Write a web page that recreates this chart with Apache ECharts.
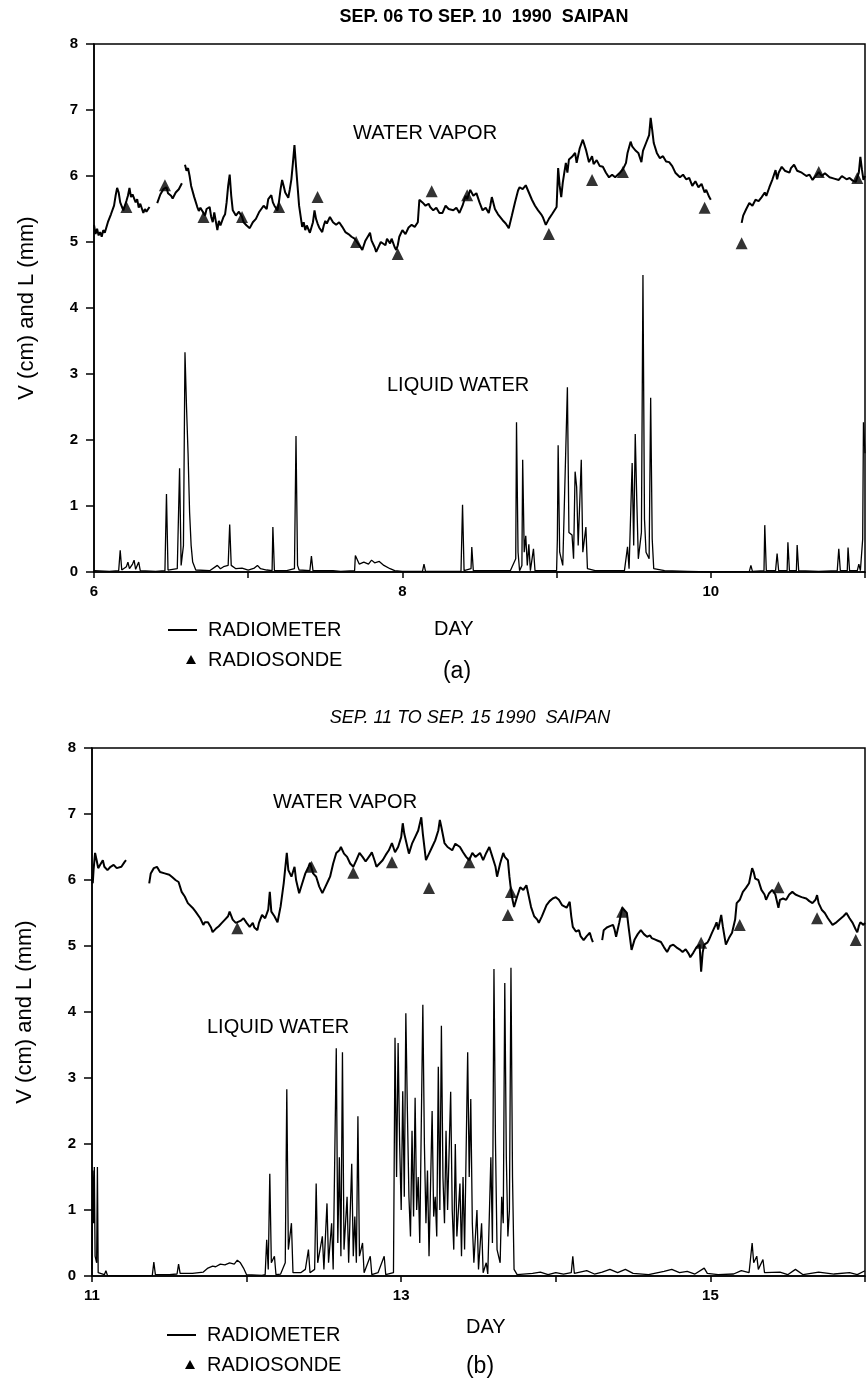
<!DOCTYPE html>
<html>
<head>
<meta charset="utf-8">
<script src="https://cdn.jsdelivr.net/npm/echarts@6/dist/echarts.min.js"></script>
<style>
  html, body { margin: 0; padding: 0; background: #fff; }
  #chart { width: 868px; height: 1389px; }
</style>
</head>
<body>
<div id="chart"></div>
<script>
// Saipan, September 1990: integrated water vapor V (cm) and liquid water L (mm)
// from the microwave radiometer, with radiosonde V values as triangles.

const dayRangeA = [6, 11];
const dayRangeB = [11, 16];
const valueRange = [0, 8];
const titleA = 'SEP. 06 TO SEP. 10  1990  SAIPAN';
const titleB = 'SEP. 11 TO SEP. 15 1990  SAIPAN';
const yAxisTitle = 'V (cm) and L (mm)';

// Radiometer water vapor, Sep 06-10; each inner list is one unbroken record
const vaporA = [
  [[6.00,5.26],[6.01,5.12],[6.02,5.20],[6.03,5.10],[6.04,5.15],[6.05,5.08],[6.06,5.18],[6.07,5.14],[6.09,5.30],[6.11,5.42],
   [6.13,5.55],[6.14,5.70],[6.15,5.82],[6.16,5.75],[6.17,5.60],[6.19,5.48],[6.20,5.55],[6.21,5.62],[6.22,5.70],[6.23,5.82],
   [6.24,5.68],[6.25,5.72],[6.27,5.60],[6.28,5.65],[6.29,5.52],[6.30,5.58],[6.32,5.44],[6.33,5.50],[6.34,5.46],[6.36,5.53]],
  [[6.41,5.59],[6.43,5.72],[6.45,5.80],[6.47,5.83],[6.48,5.74],[6.50,5.70],[6.51,5.66],[6.53,5.75],[6.55,5.80],[6.57,5.89]],
  [[6.59,6.17],[6.60,6.08],[6.61,6.12],[6.62,6.00],[6.63,5.85],[6.65,5.68],[6.67,5.53],[6.68,5.47],[6.69,5.52],[6.71,5.44],
   [6.72,5.40],[6.73,5.50],[6.75,5.53],[6.76,5.38],[6.77,5.30],[6.78,5.45],[6.80,5.18],[6.81,5.32],[6.82,5.25],[6.84,5.38],
   [6.85,5.42],[6.86,5.60],[6.87,5.85],[6.88,6.02],[6.89,5.70],[6.90,5.48],[6.92,5.40],[6.94,5.46],[6.96,5.38],[6.97,5.30],
   [6.99,5.25],[7.01,5.21],[7.03,5.30],[7.05,5.35],[7.07,5.45],[7.08,5.48],[7.10,5.55],[7.12,5.50],[7.13,5.65],[7.15,5.71],
   [7.16,5.60],[7.17,5.55],[7.19,5.48],[7.20,5.62],[7.21,5.80],[7.22,5.94],[7.23,5.85],[7.24,5.75],[7.26,5.67],[7.27,5.80],
   [7.28,5.95],[7.29,6.20],[7.30,6.47],[7.31,6.15],[7.32,5.85],[7.33,5.55],[7.35,5.23],[7.36,5.30],[7.37,5.18],[7.38,5.25],
   [7.40,5.14],[7.41,5.22],[7.42,5.30],[7.43,5.48],[7.44,5.35],[7.45,5.28],[7.46,5.22],[7.48,5.15],[7.49,5.25],[7.50,5.32],
   [7.51,5.28],[7.53,5.38],[7.55,5.30],[7.57,5.26],[7.59,5.30],[7.61,5.23],[7.63,5.15],[7.65,5.12],[7.67,5.08],[7.69,5.05],
   [7.70,5.03],[7.72,4.95],[7.74,4.88],[7.75,4.95],[7.76,5.02],[7.78,5.10],[7.79,5.14],[7.80,5.02],[7.82,4.92],[7.83,4.85],
   [7.84,4.90],[7.86,5.00],[7.87,5.03],[7.89,4.95],[7.90,5.05],[7.92,4.98],[7.93,5.05],[7.95,4.92],[7.96,4.88],[7.97,4.95],
   [7.98,5.08],[8.00,5.18],[8.02,5.12],[8.04,5.22],[8.06,5.26],[8.08,5.23],[8.10,5.30],[8.11,5.64],[8.13,5.60],[8.15,5.55],
   [8.17,5.58],[8.18,5.53],[8.20,5.48],[8.22,5.52],[8.24,5.44],[8.26,5.44],[8.28,5.55],[8.30,5.50],[8.33,5.48],[8.35,5.52],
   [8.37,5.44],[8.39,5.55],[8.41,5.70],[8.42,5.65],[8.44,5.79],[8.46,5.70],[8.48,5.74],[8.50,5.60],[8.52,5.48],[8.54,5.52],
   [8.56,5.44],[8.57,5.55],[8.58,5.68],[8.60,5.50],[8.62,5.42],[8.65,5.33],[8.67,5.28],[8.69,5.21],[8.71,5.40],[8.73,5.60],
   [8.75,5.78],[8.76,5.83],[8.78,5.80],[8.80,5.86],[8.82,5.75],[8.84,5.64],[8.86,5.55],[8.88,5.48],[8.90,5.42],[8.91,5.38],
   [8.93,5.26],[8.95,5.35],[8.97,5.42],[9.00,5.53],[9.01,6.12],[9.02,5.85],[9.03,5.68],[9.04,5.90],[9.05,6.05],[9.06,6.20],
   [9.07,6.05],[9.08,6.25],[9.10,6.29],[9.12,6.35],[9.13,6.20],[9.15,6.42],[9.17,6.55],[9.18,6.58],[9.19,6.40],[9.21,6.21],
   [9.23,6.30],[9.24,6.18],[9.26,6.24],[9.28,6.15],[9.30,6.14],[9.32,6.05],[9.34,5.98],[9.36,6.02],[9.38,5.98],[9.41,6.05],
   [9.43,6.10],[9.45,6.20],[9.46,6.35],[9.48,6.52],[9.49,6.45],[9.51,6.39],[9.53,6.35],[9.55,6.21],[9.56,6.38],[9.58,6.50],
   [9.60,6.62],[9.61,6.88],[9.62,6.70],[9.63,6.50],[9.65,6.35],[9.67,6.27],[9.69,6.30],[9.71,6.22],[9.73,6.21],[9.75,6.15],
   [9.77,6.05],[9.80,5.98],[9.82,6.02],[9.84,5.95],[9.86,5.97],[9.88,5.85],[9.90,5.92],[9.92,5.83],[9.94,5.88],[9.96,5.75],
   [9.97,5.79],[9.99,5.68],[10.00,5.64]],
  [[10.20,5.29],[10.21,5.40],[10.23,5.50],[10.25,5.59],[10.27,5.55],[10.29,5.64],[10.31,5.62],[10.33,5.68],[10.35,5.75],[10.36,5.70],
   [10.38,5.83],[10.40,5.95],[10.42,6.09],[10.43,5.95],[10.44,6.05],[10.46,6.14],[10.48,6.08],[10.51,6.05],[10.52,6.12],[10.54,6.17],
   [10.56,6.08],[10.59,6.05],[10.62,6.00],[10.64,6.02],[10.66,5.94],[10.68,6.00],[10.70,6.06],[10.72,6.00],[10.74,6.04],[10.77,5.98],
   [10.80,5.96],[10.83,5.94],[10.85,6.00],[10.88,5.95],[10.90,5.97],[10.92,5.93],[10.94,5.91],[10.96,6.05],[10.97,6.29],[10.98,6.10],
   [10.99,5.94],[11.00,6.00]]
];

// Radiosonde water vapor, Sep 06-10
const sondeA = [[6.21,5.53],[6.46,5.86],[6.71,5.38],[6.96,5.38],[7.20,5.53],[7.45,5.68],[7.70,5.00],[7.97,4.82],[8.19,5.77],
  [8.42,5.71],[8.95,5.12],[9.23,5.94],[9.43,6.06],[9.96,5.52],[10.20,4.98],[10.70,6.06],[10.95,5.97]];

// Radiometer liquid water, Sep 06-10
const liquidA = [[6.00,0.02],[6.10,0.01],[6.16,0.02],[6.17,0.33],[6.18,0.03],[6.21,0.08],[6.22,0.15],[6.23,0.05],[6.25,0.12],
  [6.26,0.18],[6.27,0.04],[6.29,0.15],[6.30,0.02],[6.40,0.01],[6.46,0.02],[6.47,1.18],[6.48,0.03],[6.54,0.05],[6.555,1.57],
  [6.565,0.10],[6.58,0.40],[6.59,3.33],[6.60,2.50],[6.61,1.80],[6.62,0.90],[6.63,0.40],[6.64,0.15],[6.66,0.03],[6.75,0.02],
  [6.80,0.10],[6.82,0.05],[6.84,0.08],[6.87,0.10],[6.88,0.72],[6.89,0.10],[6.92,0.05],[6.96,0.06],[7.00,0.03],[7.04,0.06],
  [7.06,0.10],[7.08,0.05],[7.12,0.03],[7.155,0.02],[7.16,0.68],[7.17,0.02],[7.25,0.02],[7.30,0.05],[7.31,2.06],[7.32,0.10],
  [7.33,0.03],[7.40,0.02],[7.41,0.24],[7.42,0.02],[7.55,0.02],[7.60,0.01],[7.69,0.02],[7.695,0.25],[7.72,0.12],[7.75,0.15],
  [7.78,0.12],[7.80,0.18],[7.82,0.14],[7.85,0.16],[7.88,0.10],[7.92,0.05],[7.95,0.02],[8.00,0.01],[8.13,0.01],[8.14,0.12],
  [8.15,0.01],[8.38,0.01],[8.39,1.02],[8.40,0.02],[8.445,0.05],[8.45,0.38],[8.46,0.02],[8.70,0.02],[8.735,0.20],[8.74,2.27],
  [8.75,0.30],[8.76,0.02],[8.775,0.10],[8.78,1.70],[8.79,0.30],[8.80,0.55],[8.81,0.10],[8.82,0.42],[8.83,0.02],[8.85,0.35],
  [8.86,0.02],[9.00,0.02],[9.005,0.50],[9.01,1.92],[9.02,0.30],[9.04,0.10],[9.07,2.80],[9.08,0.60],[9.10,0.56],[9.11,0.20],
  [9.12,1.52],[9.13,1.29],[9.14,0.40],[9.16,1.70],[9.17,0.30],[9.19,0.68],[9.20,0.05],[9.25,0.02],[9.44,0.02],[9.46,0.38],
  [9.47,0.05],[9.49,1.65],[9.50,0.40],[9.51,2.09],[9.52,1.09],[9.53,0.20],[9.55,0.60],[9.56,4.50],[9.57,0.80],[9.58,0.30],
  [9.60,0.20],[9.61,2.64],[9.62,0.50],[9.63,0.05],[9.70,0.02],[9.85,0.01],[10.00,0.00],[10.25,0.01],[10.26,0.10],[10.27,0.01],
  [10.345,0.02],[10.35,0.71],[10.36,0.02],[10.42,0.02],[10.43,0.28],[10.44,0.02],[10.495,0.02],[10.50,0.45],[10.51,0.02],
  [10.555,0.02],[10.56,0.41],[10.57,0.02],[10.70,0.01],[10.82,0.02],[10.83,0.35],[10.84,0.02],[10.885,0.02],[10.89,0.37],
  [10.90,0.02],[10.95,0.02],[10.96,0.12],[10.97,0.02],[10.985,0.50],[10.99,2.27],[11.00,1.80]];

// Radiometer water vapor, Sep 11-15
const vaporB = [
  [[11.00,6.05],[11.005,5.95],[11.01,6.15],[11.02,6.41],[11.03,6.30],[11.04,6.18],[11.05,6.22],[11.07,6.30],[11.08,6.20],[11.10,6.15],
   [11.12,6.20],[11.14,6.23],[11.16,6.18],[11.17,6.15],[11.19,6.20],[11.21,6.27],[11.22,6.30]],
  [[11.37,5.95],[11.38,6.10],[11.40,6.18],[11.41,6.15],[11.42,6.20],[11.44,6.12],[11.45,6.11],[11.47,6.10],[11.48,6.08],[11.50,6.08],
   [11.52,6.04],[11.54,6.00],[11.56,5.97],[11.58,5.82],[11.60,5.75],[11.62,5.65],[11.63,5.62],[11.65,5.58],[11.67,5.52],[11.68,5.50],
   [11.70,5.42],[11.72,5.32],[11.73,5.36],[11.75,5.36],[11.77,5.28],[11.78,5.21],[11.80,5.26],[11.82,5.30],[11.84,5.35],[11.86,5.40],
   [11.88,5.45],[11.89,5.52],[11.91,5.40],[11.93,5.35],[11.94,5.32],[11.96,5.38],[11.98,5.42],[12.00,5.35],[12.02,5.29],[12.04,5.35],
   [12.05,5.28],[12.07,5.24],[12.08,5.35],[12.10,5.47],[12.12,5.42],[12.14,5.55],[12.15,5.82],[12.16,5.52],[12.18,5.45],[12.20,5.36],
   [12.22,5.60],[12.24,5.95],[12.26,6.41],[12.27,6.15],[12.29,6.05],[12.31,6.20],[12.32,6.00],[12.34,5.80],[12.36,5.95],[12.38,6.10],
   [12.40,6.20],[12.41,6.26],[12.43,6.10],[12.45,6.05],[12.47,5.90],[12.49,5.80],[12.51,5.90],[12.53,6.00],[12.54,6.05],[12.56,6.25],
   [12.58,6.41],[12.60,6.45],[12.61,6.50],[12.63,6.40],[12.65,6.35],[12.67,6.25],[12.69,6.20],[12.71,6.30],[12.73,6.41],[12.75,6.35],
   [12.77,6.28],[12.78,6.30],[12.80,6.38],[12.81,6.42],[12.83,6.28],[12.84,6.20],[12.86,6.25],[12.88,6.30],[12.90,6.38],[12.92,6.45],
   [12.94,6.56],[12.96,6.42],[12.98,6.50],[13.00,6.65],[13.01,6.86],[13.02,6.70],[13.04,6.50],[13.05,6.40],[13.07,6.55],[13.09,6.65],
   [13.11,6.75],[13.13,6.95],[13.14,6.70],[13.16,6.30],[13.18,6.40],[13.20,6.50],[13.22,6.60],[13.24,6.75],[13.25,6.91],[13.26,6.80],
   [13.28,6.56],[13.30,6.50],[13.33,6.45],[13.35,6.55],[13.38,6.50],[13.40,6.42],[13.42,6.35],[13.44,6.30],[13.46,6.41],[13.48,6.35],
   [13.51,6.41],[13.53,6.30],[13.55,6.41],[13.57,6.50],[13.59,6.35],[13.61,6.20],[13.62,6.05],[13.64,6.25],[13.66,6.41],[13.67,6.35],
   [13.69,6.30],[13.70,6.05],[13.71,5.85],[13.72,5.70],[13.73,5.59],[13.75,5.75],[13.77,5.89],[13.79,5.85],[13.81,5.92],[13.83,5.70],
   [13.84,5.59],[13.86,5.45],[13.88,5.40],[13.89,5.35],[13.91,5.45],[13.94,5.62],[13.96,5.68],[13.98,5.72],[14.00,5.74],[14.02,5.70],
   [14.04,5.62],[14.07,5.58],[14.09,5.67],[14.10,5.45],[14.11,5.29],[14.13,5.22],[14.15,5.24],[14.16,5.15],[14.18,5.09],[14.20,5.15],
   [14.22,5.20],[14.23,5.12],[14.24,5.06]],
  [[14.30,5.09],[14.31,5.24],[14.33,5.28],[14.35,5.30],[14.37,5.32],[14.38,5.25],[14.39,5.14],[14.41,5.35],[14.43,5.58],[14.44,5.60],
   [14.46,5.50],[14.47,5.30],[14.49,4.94],[14.51,5.10],[14.53,5.18],[14.55,5.24],[14.57,5.18],[14.59,5.14],[14.61,5.16],[14.62,5.12],
   [14.64,5.10],[14.66,5.08],[14.68,5.06],[14.70,4.98],[14.72,4.91],[14.74,5.00],[14.76,5.02],[14.78,4.98],[14.80,4.95],[14.82,4.91],
   [14.84,4.95],[14.86,4.88],[14.87,4.83],[14.89,4.90],[14.91,4.98],[14.93,5.02],[14.94,4.61],[14.95,4.90],[14.96,5.02],[14.98,5.05],
   [14.99,5.09],[15.01,5.20],[15.03,5.30],[15.04,5.36],[15.05,5.25],[15.07,5.47],[15.08,5.30],[15.10,5.02],[15.12,5.12],[15.14,5.20],
   [15.16,5.40],[15.17,5.65],[15.19,5.70],[15.21,5.82],[15.23,5.88],[15.25,5.95],[15.27,6.18],[15.28,6.12],[15.29,6.02],[15.31,6.00],
   [15.33,5.85],[15.35,5.78],[15.36,5.70],[15.38,5.80],[15.40,5.85],[15.42,5.78],[15.44,5.58],[15.45,5.70],[15.47,5.72],[15.49,5.70],
   [15.51,5.78],[15.53,5.82],[15.55,5.78],[15.57,5.76],[15.59,5.74],[15.62,5.72],[15.64,5.68],[15.66,5.65],[15.68,5.70],[15.69,5.77],
   [15.70,5.65],[15.72,5.55],[15.74,5.50],[15.76,5.42],[15.79,5.32],[15.81,5.35],[15.83,5.39],[15.86,5.45],[15.88,5.50],[15.90,5.42],
   [15.92,5.35],[15.94,5.25],[15.95,5.21],[15.96,5.30],[15.97,5.36],[15.99,5.32],[16.00,5.35]]
];

// Radiosonde water vapor, Sep 11-15
const sondeB = [[11.94,5.27],[12.42,6.20],[12.69,6.11],[12.94,6.27],[13.18,5.88],[13.44,6.27],[13.69,5.47],[13.71,5.82],
  [14.43,5.52],[14.94,5.05],[15.19,5.32],[15.44,5.89],[15.69,5.42],[15.94,5.09]];

// Radiometer liquid water, Sep 11-15
const liquidB = [[11.00,0.10],[11.005,1.60],[11.01,0.80],[11.015,1.65],[11.02,0.30],[11.03,0.20],[11.035,1.65],[11.04,0.05],
  [11.08,0.02],[11.09,0.08],[11.10,0.01],[11.20,0.00],[11.39,0.01],[11.40,0.21],[11.41,0.02],[11.50,0.02],[11.55,0.03],
  [11.56,0.18],[11.57,0.04],[11.65,0.04],[11.72,0.06],[11.75,0.12],[11.78,0.15],[11.80,0.14],[11.83,0.18],[11.86,0.17],
  [11.89,0.20],[11.92,0.18],[11.94,0.24],[11.96,0.20],[11.98,0.12],[12.00,0.02],[12.10,0.01],[12.12,0.02],[12.13,0.55],
  [12.14,0.10],[12.15,1.55],[12.16,0.20],[12.18,0.30],[12.19,0.02],[12.22,0.03],[12.25,0.20],[12.26,2.83],[12.27,0.40],
  [12.29,0.80],[12.30,0.05],[12.35,0.05],[12.38,0.10],[12.40,0.40],[12.41,0.05],[12.44,0.10],[12.45,1.40],[12.46,0.20],
  [12.49,0.60],[12.50,0.10],[12.52,1.10],[12.53,0.20],[12.55,0.80],[12.56,0.10],[12.58,3.45],[12.59,0.50],[12.60,1.80],
  [12.61,0.30],[12.62,3.39],[12.63,0.40],[12.65,1.20],[12.66,0.20],[12.68,1.70],[12.69,0.30],[12.70,0.90],[12.71,0.20],
  [12.72,2.42],[12.73,0.30],[12.75,0.50],[12.76,0.05],[12.80,0.30],[12.81,0.02],[12.85,0.05],[12.89,0.30],[12.90,0.02],
  [12.95,0.05],[12.96,3.61],[12.97,1.50],[12.98,3.53],[12.99,2.00],[13.00,1.00],[13.01,2.80],[13.02,1.20],[13.03,3.98],
  [13.04,2.50],[13.05,1.20],[13.06,0.60],[13.07,2.20],[13.08,0.90],[13.09,2.70],[13.10,1.00],[13.11,1.50],[13.12,0.50],
  [13.14,4.11],[13.15,2.00],[13.16,0.80],[13.17,1.60],[13.18,0.30],[13.20,2.50],[13.21,0.90],[13.22,1.20],[13.23,0.60],
  [13.24,3.17],[13.25,1.00],[13.26,3.79],[13.27,1.50],[13.28,0.80],[13.29,2.20],[13.30,1.00],[13.32,2.79],[13.33,1.00],
  [13.34,0.40],[13.35,2.00],[13.36,0.60],[13.38,1.40],[13.39,0.30],[13.40,1.50],[13.41,0.40],[13.43,3.39],[13.44,1.50],
  [13.45,2.68],[13.46,0.80],[13.47,0.20],[13.49,1.00],[13.50,0.10],[13.52,0.80],[13.53,0.05],[13.55,0.20],[13.56,0.03],
  [13.58,1.80],[13.59,0.50],[13.60,4.65],[13.61,2.00],[13.62,0.40],[13.64,0.20],[13.65,1.20],[13.66,0.80],[13.67,4.44],
  [13.68,1.80],[13.69,0.60],[13.70,1.00],[13.71,4.67],[13.72,1.50],[13.73,0.10],[13.75,0.02],[13.85,0.04],[13.90,0.06],
  [13.95,0.02],[14.00,0.05],[14.05,0.03],[14.10,0.05],[14.11,0.30],[14.12,0.04],[14.20,0.08],[14.25,0.03],[14.30,0.06],
  [14.35,0.10],[14.40,0.05],[14.45,0.10],[14.50,0.04],[14.60,0.02],[14.70,0.07],[14.75,0.10],[14.80,0.05],[14.85,0.07],
  [14.90,0.03],[14.96,0.12],[14.98,0.04],[15.05,0.02],[15.15,0.03],[15.20,0.08],[15.25,0.05],[15.27,0.50],[15.28,0.20],
  [15.30,0.30],[15.31,0.10],[15.34,0.25],[15.35,0.05],[15.45,0.06],[15.50,0.02],[15.55,0.10],[15.60,0.02],[15.70,0.06],
  [15.80,0.03],[15.90,0.05],[15.95,0.02],[16.00,0.08]];

const FONT = "'Liberation Sans', Arial, Helvetica, sans-serif";
const INK = '#000';

const chart = echarts.init(document.getElementById('chart'), null, { renderer: 'canvas' });

function xAxisFor(gridIndex, range) {
  return {
    type: 'value', gridIndex, min: range[0], max: range[1], interval: 1,
    axisLine: { lineStyle: { color: INK, width: 1.5 } },
    axisTick: { length: 6, lineStyle: { color: INK, width: 1.5 } },
    axisLabel: {
      color: INK, fontFamily: FONT, fontSize: 15, fontWeight: 'bold', margin: 12,
      formatter: v => ((v - range[0]) % 2 === 0 ? String(v) : '')
    },
    splitLine: { show: false }
  };
}

function yAxisFor(gridIndex) {
  return {
    type: 'value', gridIndex, min: valueRange[0], max: valueRange[1], interval: 1,
    name: yAxisTitle, nameLocation: 'middle', nameRotate: 90, nameGap: 56,
    nameTextStyle: { color: INK, fontFamily: FONT, fontSize: 22 },
    axisLine: { lineStyle: { color: INK, width: 1.5 } },
    axisTick: { length: 8, lineStyle: { color: INK, width: 1.5 } },
    axisLabel: { color: INK, fontFamily: FONT, fontSize: 15, fontWeight: 'bold', margin: 16 },
    splitLine: { show: false }
  };
}

function lineSeries(data, axisIndex, width) {
  return {
    type: 'line', data, xAxisIndex: axisIndex, yAxisIndex: axisIndex,
    showSymbol: false, symbol: 'none', smooth: false, silent: true,
    lineStyle: { color: INK, width }, z: 3
  };
}

function sondeSeries(data, axisIndex) {
  return {
    type: 'scatter', data, xAxisIndex: axisIndex, yAxisIndex: axisIndex,
    symbol: 'triangle', symbolSize: 12, silent: true,
    itemStyle: { color: INK }, z: 4
  };
}

const series = [];
vaporA.forEach(seg => series.push(lineSeries(seg, 0, 2)));
series.push(lineSeries(liquidA, 0, 1.3));
series.push(sondeSeries(sondeA, 0));
vaporB.forEach(seg => series.push(lineSeries(seg, 1, 2)));
series.push(lineSeries(liquidB, 1, 1.3));
series.push(sondeSeries(sondeB, 1));

function txt(x, y, text, font, extra) {
  return {
    type: 'text', x, y, silent: true,
    style: Object.assign({ text, fill: INK, font: `${font} ${FONT}`, textVerticalAlign: 'middle' }, extra || {})
  };
}

function legendGroup(x, yLine, ySonde) {
  return [
    { type: 'line', silent: true, shape: { x1: x, y1: yLine, x2: x + 29, y2: yLine }, style: { stroke: INK, lineWidth: 2 } },
    txt(x + 40, yLine, 'RADIOMETER', '20px'),
    { type: 'polygon', silent: true,
      shape: { points: [[x + 23, ySonde - 5], [x + 18, ySonde + 4], [x + 28, ySonde + 4]] },
      style: { fill: INK } },
    txt(x + 40, ySonde, 'RADIOSONDE', '20px')
  ];
}

const graphic = [
  txt(484, 17, titleA, 'bold 18px', { textAlign: 'center' }),
  txt(353, 133, 'WATER VAPOR', '20px'),
  txt(387, 385, 'LIQUID WATER', '20px'),
  txt(434, 629, 'DAY', '20px'),
  txt(457, 672, '(a)', '23px', { textAlign: 'center' }),
  ...legendGroup(168, 630, 660),

  txt(470, 718, titleB, 'italic 18px', { textAlign: 'center' }),
  txt(273, 802, 'WATER VAPOR', '20px'),
  txt(207, 1027, 'LIQUID WATER', '20px'),
  txt(466, 1327, 'DAY', '20px'),
  txt(480, 1367, '(b)', '23px', { textAlign: 'center' }),
  ...legendGroup(167, 1335, 1365)
];

chart.setOption({
  animation: false,
  backgroundColor: '#fff',
  grid: [
    { left: 94, top: 44, width: 772, height: 528, show: true, borderColor: INK, borderWidth: 1.5, backgroundColor: 'transparent' },
    { left: 92, top: 748, width: 774, height: 528, show: true, borderColor: INK, borderWidth: 1.5, backgroundColor: 'transparent' }
  ],
  xAxis: [xAxisFor(0, dayRangeA), xAxisFor(1, dayRangeB)],
  yAxis: [yAxisFor(0), yAxisFor(1)],
  series,
  graphic
});
</script>
</body>
</html>
